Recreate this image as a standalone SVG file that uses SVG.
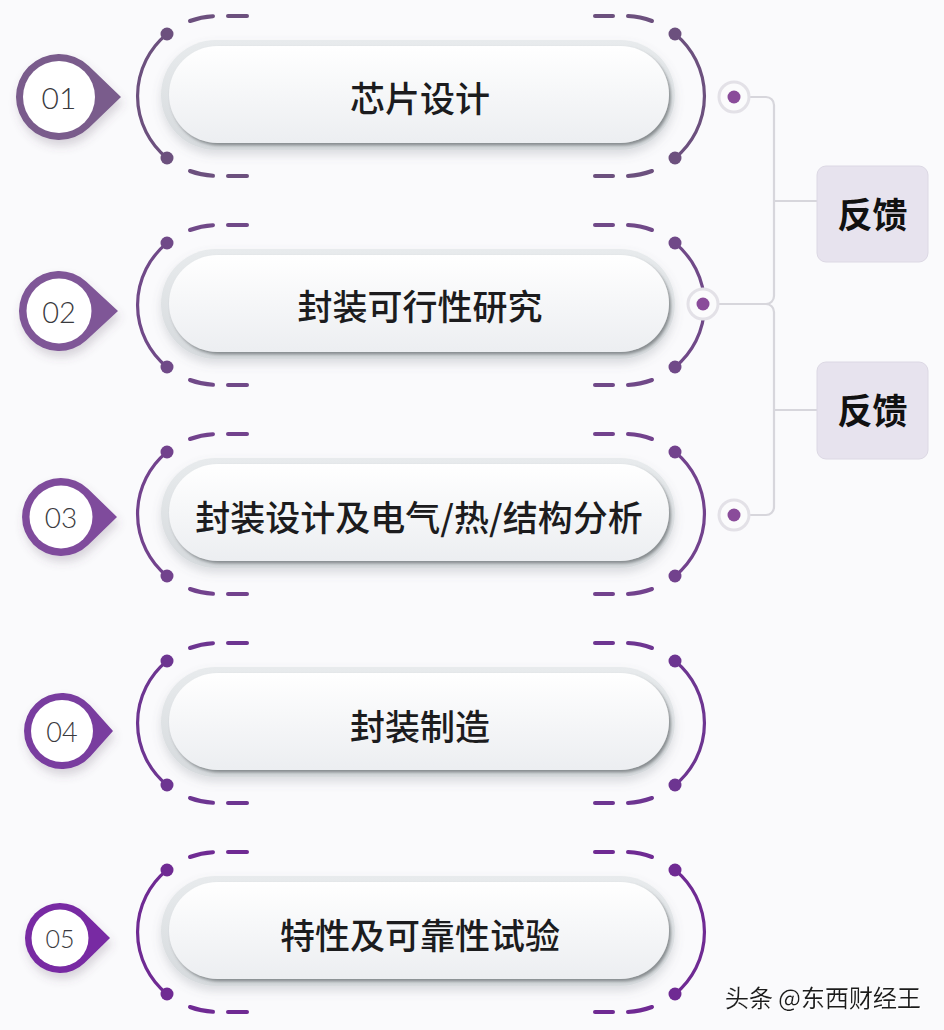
<svg xmlns="http://www.w3.org/2000/svg" xmlns:xlink="http://www.w3.org/1999/xlink" width="944" height="1030" viewBox="0 0 944 1030">
<defs>
<style>
.arc{fill:none;stroke:currentColor;stroke-width:3.2;stroke-linecap:round}
.dash{fill:none;stroke:currentColor;stroke-width:4;stroke-linecap:round}
.dot{fill:currentColor}
.ptxt{font-family:"Noto Sans CJK SC","Noto Sans",sans-serif;font-size:35px;font-weight:500;fill:#1c1c1e;text-anchor:middle;dominant-baseline:central}
.ntxt{font-family:Lato,"Open Sans",sans-serif;font-weight:300;fill:#3a3a3e;text-anchor:middle;dominant-baseline:central}
.fb{fill:#e7e3ee;stroke:#dcd8e4;stroke-width:1}
.fbtxt{font-family:"Noto Sans CJK SC",sans-serif;font-size:35px;font-weight:700;fill:#111;text-anchor:middle;dominant-baseline:central}
.conn{fill:none;stroke:#d7d6dc;stroke-width:2.2}
.ring{fill:#fbfbfc;stroke:#e3e1e7;stroke-width:3}
.cdot{fill:#8a4c9a}
.inner{fill:#fff}
</style>
<linearGradient id="rimGrad" x1="0" y1="0" x2="0" y2="1">
<stop offset="0" stop-color="#e8ebed"/>
<stop offset="1" stop-color="#d6dadd"/>
</linearGradient>
<linearGradient id="faceGrad" x1="0" y1="0" x2="0" y2="1">
<stop offset="0" stop-color="#ffffff"/>
<stop offset="1" stop-color="#eceef1"/>
</linearGradient>
<filter id="pillShadow" x="-10%" y="-30%" width="120%" height="170%">
<feDropShadow dx="0" dy="5" stdDeviation="5" flood-color="#6a6f78" flood-opacity="0.22"/>
</filter>
<filter id="faceShadow" x="-10%" y="-30%" width="120%" height="170%">
<feDropShadow dx="2" dy="2.5" stdDeviation="1.6" flood-color="#4f5459" flood-opacity="0.6"/>
</filter>
<filter id="badgeShadow" x="-40%" y="-40%" width="180%" height="190%">
<feDropShadow dx="2" dy="6" stdDeviation="5" flood-color="#5a4a66" flood-opacity="0.22"/>
</filter>
<filter id="wm" x="-5%" y="-20%" width="110%" height="140%">
<feDropShadow dx="1" dy="1" stdDeviation="0.6" flood-color="#ffffff" flood-opacity="1"/>
</filter>
<g id="deco">
<path class="arc" d="M167,-62 A80,80 0 0 0 167,62"/>
<path class="arc" d="M675,-62 A80,80 0 0 1 675,62"/>
<path class="dash" d="M190,-75 A80,80 0 0 1 213,-79.8"/>
<path class="dash" d="M228,-80 H247"/>
<path class="dash" d="M595,-80 H613"/>
<path class="dash" d="M628,-79.9 A80,80 0 0 1 652,-75"/>
<path class="dash" d="M190,75 A80,80 0 0 0 213,79.8"/>
<path class="dash" d="M228,80 H247"/>
<path class="dash" d="M595,80 H613"/>
<path class="dash" d="M628,79.9 A80,80 0 0 0 652,75"/>
<circle class="dot" cx="167" cy="-62" r="6.5"/>
<circle class="dot" cx="167" cy="62" r="6.5"/>
<circle class="dot" cx="675" cy="-62" r="6.5"/>
<circle class="dot" cx="675" cy="62" r="6.5"/>
</g>
<g id="pill">
<rect x="161" y="-56" width="514" height="110" rx="55" fill="url(#rimGrad)" filter="url(#pillShadow)"/>
<rect x="169" y="-50" width="500" height="97" rx="48.5" fill="url(#faceGrad)" filter="url(#faceShadow)"/>
</g>
</defs>
<rect x="0" y="0" width="944" height="1030" fill="#fafafc"/>

<g id="connectors">
<path class="conn" d="M750,97 H766 A8,8 0 0 1 774,105 V296 A8,8 0 0 1 766,304 H719"/>
<path class="conn" d="M719,304 H766 A8,8 0 0 1 774,312 V507 A8,8 0 0 1 766,515 H750"/>
<path class="conn" d="M774,201 H817"/>
<path class="conn" d="M774,410 H817"/>
</g>

<g id="step1">
<use xlink:href="#pill" href="#pill" transform="translate(0,96)"/>
<use xlink:href="#deco" href="#deco" transform="translate(0,96)" style="color:#6c507e"/>
<text class="ptxt" x="420" y="96">芯片设计</text>
</g>
<g id="badge1">
<path d="M121,97 L88.8,66 A43,43 0 1 0 88.8,128 Z" fill="#7a5c8c" filter="url(#badgeShadow)"/>
<circle class="inner" cx="59" cy="97" r="36"/>
<text class="ntxt" x="59" y="97" font-size="30">01</text>
</g>

<g id="step2">
<use xlink:href="#pill" href="#pill" transform="translate(0,305)"/>
<use xlink:href="#deco" href="#deco" transform="translate(0,305)" style="color:#704988"/>
<text class="ptxt" x="420" y="304">封装可行性研究</text>
</g>
<g id="badge2">
<path d="M118,311 L86.1,281.6 A40,40 0 1 0 86.1,340.4 Z" fill="#7f5697" filter="url(#badgeShadow)"/>
<circle class="inner" cx="59" cy="311" r="32.5"/>
<text class="ntxt" x="59" y="311" font-size="29">02</text>
</g>

<g id="step3">
<use xlink:href="#pill" href="#pill" transform="translate(0,514)"/>
<use xlink:href="#deco" href="#deco" transform="translate(0,514)" style="color:#72428d"/>
<text class="ptxt" x="419" y="515">封装设计及电气/热/结构分析</text>
</g>
<g id="badge3">
<path d="M117,517 L88.2,489 A39,39 0 1 0 88.2,545 Z" fill="#7f4c9c" filter="url(#badgeShadow)"/>
<circle class="inner" cx="61" cy="517" r="31.5"/>
<text class="ntxt" x="61" y="517" font-size="28">03</text>
</g>

<g id="step4">
<use xlink:href="#pill" href="#pill" transform="translate(0,723)"/>
<use xlink:href="#deco" href="#deco" transform="translate(0,723)" style="color:#6d3591"/>
<text class="ptxt" x="420" y="724">封装制造</text>
</g>
<g id="badge4">
<path d="M113,731 L90.3,705.6 A38,38 0 1 0 90.3,756.4 Z" fill="#793c9f" filter="url(#badgeShadow)"/>
<circle class="inner" cx="62" cy="731" r="31"/>
<text class="ntxt" x="62" y="731" font-size="27">04</text>
</g>

<g id="step5">
<use xlink:href="#pill" href="#pill" transform="translate(0,932)"/>
<use xlink:href="#deco" href="#deco" transform="translate(0,932)" style="color:#6f2a93"/>
<text class="ptxt" x="420" y="933">特性及可靠性试验</text>
</g>
<g id="badge5">
<path d="M110,938 L84.5,913 A35,35 0 1 0 84.5,963 Z" fill="#7829a3" filter="url(#badgeShadow)"/>
<circle class="inner" cx="60" cy="938" r="28.5"/>
<text class="ntxt" x="60" y="938" font-size="25">05</text>
</g>

<g id="node-c1">
<circle class="ring" cx="734" cy="97" r="15"/>
<circle class="cdot" cx="734" cy="97" r="6.5"/>
</g>
<g id="node-c2">
<circle class="ring" cx="703" cy="304" r="15"/>
<circle class="cdot" cx="703" cy="304" r="6.5"/>
</g>
<g id="node-c3">
<circle class="ring" cx="734" cy="515" r="15"/>
<circle class="cdot" cx="734" cy="515" r="6.5"/>
</g>

<g id="feedback1">
<rect class="fb" x="817" y="166" width="111" height="96" rx="9"/>
<text class="fbtxt" x="872.5" y="212">反馈</text>
</g>
<g id="feedback2">
<rect class="fb" x="817" y="362" width="111" height="97" rx="9"/>
<text class="fbtxt" x="872.5" y="408">反馈</text>
</g>

<text x="823" y="996" filter="url(#wm)" style="font-family:'Noto Sans CJK SC',sans-serif;font-size:24px;fill:#1e1e1e;text-anchor:middle;dominant-baseline:central">头条 @东西财经王</text>
</svg>
